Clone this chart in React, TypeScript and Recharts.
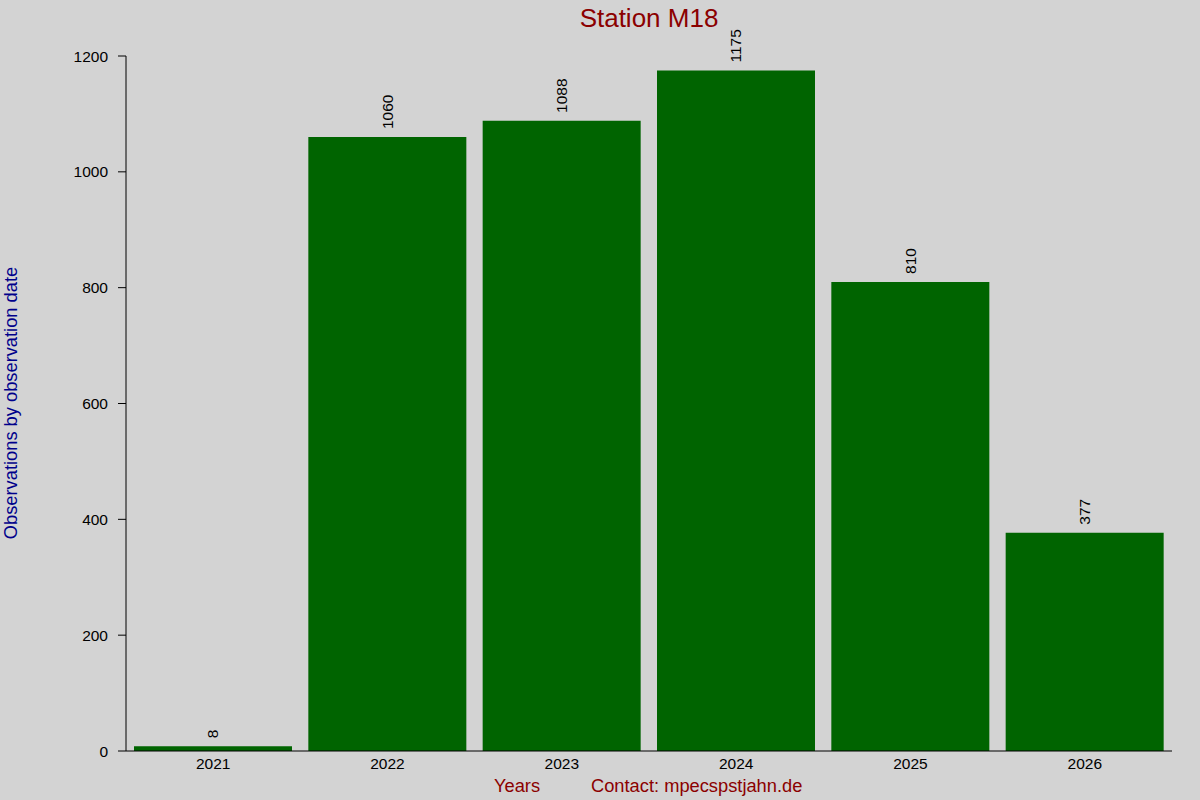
import React from 'react';
import { BarChart, Bar, XAxis, YAxis, LabelList, Customized } from 'recharts';

const years = ['2021', '2022', '2023', '2024', '2025', '2026'];
const observations = [8, 1060, 1088, 1175, 810, 377];
const yTicks = [0, 200, 400, 600, 800, 1000, 1200];

const titleText = 'Station M18';
const yLabelText = 'Observations by observation date';
const xLabelText = 'Years';
const contactText = 'Contact: mpecspstjahn.de';

const data = years.map((y, i) => ({ year: y, value: observations[i] }));

const FONT = '"Liberation Sans", Arial, sans-serif';

const BarValueLabel = (props: any) => {
  const { x, y, width, value } = props;
  const cx = Number(x) + Number(width) / 2;
  const ty = Number(y) - 8;
  return (
    <text
      x={cx}
      y={ty}
      transform={`rotate(-90 ${cx} ${ty})`}
      textAnchor="start"
      dominantBaseline="central"
      fontSize={15.5}
      fontFamily={FONT}
      fill="#000"
    >
      {value}
    </text>
  );
};

const Decorations = () => (
  <g fontFamily={FONT}>
    <text x={649} y={27} textAnchor="middle" fontSize={26} fill="#8B0000">
      {titleText}
    </text>
    <text
      x={10}
      y={403}
      transform="rotate(-90 10 403)"
      textAnchor="middle"
      dominantBaseline="central"
      fontSize={18.3}
      fill="#00008B"
    >
      {yLabelText}
    </text>
    <text x={494} y={792} fontSize={18.3} fill="#8B0000">
      {xLabelText}
    </text>
    <text x={591} y={792} fontSize={18.3} fill="#8B0000">
      {contactText}
    </text>
  </g>
);

export default function App() {
  return (
    <div style={{ position: 'absolute', left: 0, top: 0, width: 1200, height: 800, background: '#d3d3d3' }}>
      <BarChart
        width={1200}
        height={800}
        data={data}
        margin={{ top: 56, right: 28, left: 0, bottom: 0 }}
        barCategoryGap={8}
      >
        <XAxis
          dataKey="year"
          height={49}
          tickLine={false}
          tickSize={0}
          tickMargin={7}
          axisLine={{ stroke: '#000', strokeWidth: 1 }}
          tick={{ fill: '#000', fontSize: 15.5, fontFamily: FONT }}
        />
        <XAxis
          xAxisId="top"
          dataKey="year"
          orientation="top"
          height={0}
          axisLine={false}
          tick={false}
          tickSize={1}
          tickLine={{ stroke: '#000' }}
        />
        <YAxis
          width={126}
          domain={[0, 1200]}
          ticks={yTicks}
          interval={0}
          tickSize={8}
          tickMargin={10}
          axisLine={{ stroke: '#000', strokeWidth: 1 }}
          tickLine={{ stroke: '#000' }}
          tick={{ fill: '#000', fontSize: 15.5, fontFamily: FONT }}
        />
        <Bar dataKey="value" fill="#006400" isAnimationActive={false}>
          <LabelList dataKey="value" content={BarValueLabel} />
        </Bar>
        <Customized component={Decorations} />
      </BarChart>
    </div>
  );
}
